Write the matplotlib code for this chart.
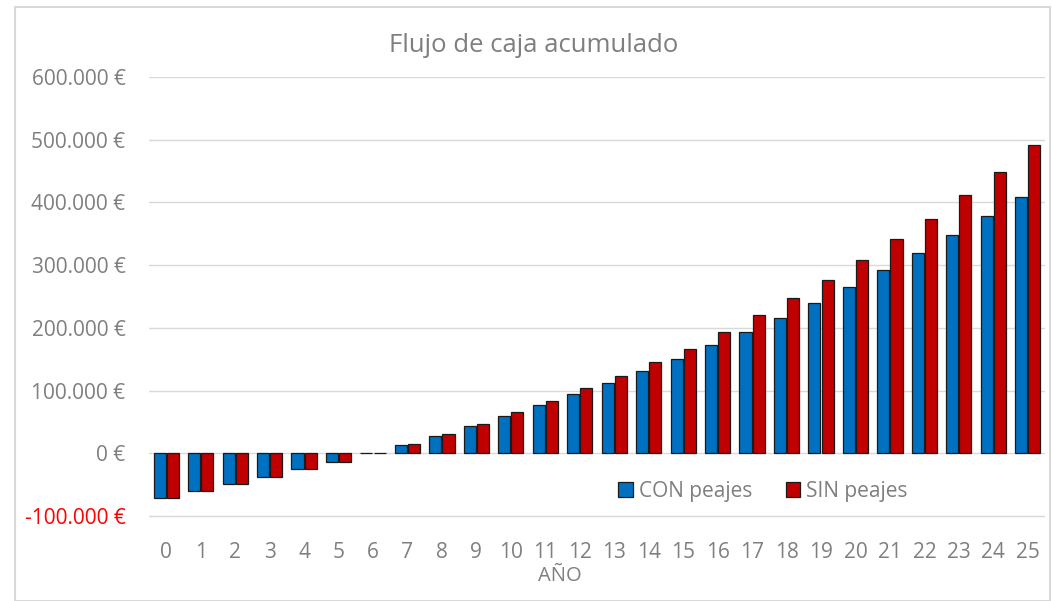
import numpy as np
import matplotlib.pyplot as plt
from matplotlib.patches import Rectangle
from matplotlib.ticker import FuncFormatter

plt.rcParams['font.family'] = ['Open Sans', 'DejaVu Sans']

years = list(range(26))
con_peajes = [-70500, -59500, -49000, -38000, -25500, -13000, 1000, 14000, 28000, 44000,
              60000, 77000, 95000, 113000, 131000, 151000, 172000, 193000, 216000, 240000,
              265000, 292000, 319000, 348000, 378000, 408000]
sin_peajes = [-70500, -59500, -49000, -38000, -25500, -13000, 1000, 15500, 31500, 47500,
              66000, 84000, 104000, 124000, 145000, 167000, 193000, 220000, 247000, 276000,
              308000, 341000, 374000, 412000, 449000, 491000]

gray = '#7F7F7F'
blue = '#0070C0'
red = '#C00000'

fig = plt.figure(figsize=(10.52, 6.01), dpi=100)
ax = fig.add_axes([149/1052, 1-518/601, (1045-149)/1052, (518-77)/601])

x = np.arange(len(years))
w = 0.35
ax.bar(x - 0.19, con_peajes, w, color=blue, edgecolor='#1a1a1a', linewidth=0.9,
       label='CON peajes', zorder=3)
ax.bar(x + 0.19, sin_peajes, w, color=red, edgecolor='#1a1a1a', linewidth=0.9,
       label='SIN peajes', zorder=3)

ax.set_xlim(-0.5, 25.5)
ax.set_ylim(-103000, 600000)
ax.set_yticks(np.arange(-100000, 600001, 100000))

def euro(v, pos):
    if v == 0:
        return '0 €'
    return '{:,.0f} €'.format(v).replace(',', '.')

ax.yaxis.set_major_formatter(FuncFormatter(euro))
ax.set_xticks(x)
ax.set_xticklabels([str(y) for y in years])

ax.grid(axis='y', color='#D9D9D9', linewidth=1, zorder=0)
for s in ax.spines.values():
    s.set_visible(False)
ax.tick_params(axis='both', length=0, colors=gray, labelsize=15)
ax.tick_params(axis='y', pad=17)
ax.tick_params(axis='x', pad=17)
for lbl in ax.get_yticklabels():
    if lbl.get_text().startswith('-'):
        lbl.set_color('#FF0000')

ax.set_xlabel('AÑO', color=gray, fontsize=14.5)
ax.xaxis.set_label_coords(0.459, -0.108)

fig.text(0.507, 1-45/601, 'Flujo de caja acumulado', ha='center', va='center',
         color=gray, fontsize=18.5)

leg = ax.legend(loc='center', bbox_to_anchor=(763/1052, 1-491/601),
                bbox_transform=fig.transFigure, ncol=2, frameon=False,
                fontsize=15, handlelength=0.7, handleheight=0.7,
                handletextpad=0.3, columnspacing=1.6)
for t in leg.get_texts():
    t.set_color(gray)

fig.patches.append(Rectangle((15/1052, 0), 1035/1052, 1-7/601, transform=fig.transFigure,
                             fill=False, edgecolor='#D9D9D9', linewidth=1.5))

fig.savefig('out.png', dpi=100)
